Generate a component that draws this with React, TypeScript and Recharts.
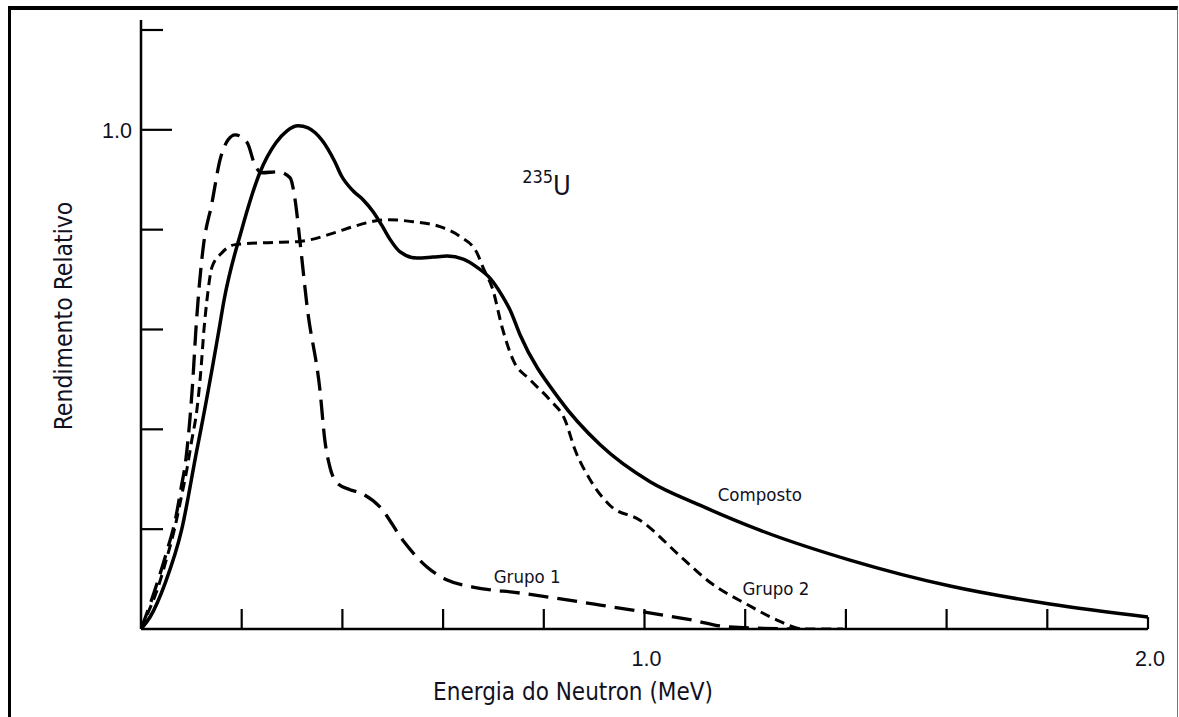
import React from 'react';
import { ComposedChart, Line, XAxis, YAxis, ReferenceDot } from 'recharts';

// Energy (MeV) and relative yield for each curve
const compostoE = [0, 0.018, 0.048, 0.081, 0.111, 0.119, 0.155, 0.165, 0.2, 0.236, 0.268, 0.29, 0.312, 0.332, 0.346, 0.371, 0.385, 0.398, 0.421, 0.441, 0.461, 0.481, 0.495, 0.514, 0.548, 0.58, 0.608, 0.64, 0.667, 0.693, 0.719, 0.733, 0.753, 0.832, 0.912, 1.011, 1.11, 1.229, 1.408, 1.607, 1.805, 2.0];
const compostoV = [0, 0.024, 0.092, 0.2, 0.359, 0.4, 0.6, 0.659, 0.8, 0.914, 0.974, 0.998, 1.008, 1.004, 0.994, 0.962, 0.936, 0.908, 0.878, 0.86, 0.836, 0.804, 0.78, 0.756, 0.743, 0.745, 0.747, 0.741, 0.725, 0.703, 0.665, 0.639, 0.589, 0.459, 0.369, 0.295, 0.248, 0.198, 0.138, 0.086, 0.05, 0.024];

const grupo1E = [0, 0.014, 0.034, 0.052, 0.068, 0.079, 0.089, 0.097, 0.103, 0.109, 0.115, 0.123, 0.141, 0.157, 0.173, 0.187, 0.211, 0.226, 0.24, 0.272, 0.296, 0.306, 0.316, 0.33, 0.356, 0.365, 0.375, 0.389, 0.415, 0.435, 0.475, 0.52, 0.568, 0.608, 0.659, 0.753, 0.912, 1.094, 1.168, 1.309];
const grupo1V = [0, 0.038, 0.098, 0.158, 0.218, 0.279, 0.339, 0.419, 0.499, 0.599, 0.679, 0.76, 0.854, 0.94, 0.98, 0.99, 0.974, 0.93, 0.914, 0.916, 0.904, 0.86, 0.774, 0.645, 0.473, 0.379, 0.325, 0.293, 0.279, 0.273, 0.244, 0.178, 0.124, 0.098, 0.084, 0.072, 0.048, 0.018, 0.004, 0];

const grupo2E = [0, 0.012, 0.032, 0.05, 0.066, 0.079, 0.091, 0.101, 0.111, 0.119, 0.125, 0.131, 0.141, 0.161, 0.187, 0.252, 0.312, 0.385, 0.421, 0.489, 0.54, 0.594, 0.634, 0.667, 0.679, 0.699, 0.717, 0.739, 0.773, 0.812, 0.842, 0.862, 0.892, 0.931, 0.991, 1.073, 1.132, 1.206, 1.263, 1.315, 1.394];
const grupo2V = [0, 0.028, 0.078, 0.138, 0.198, 0.259, 0.319, 0.379, 0.439, 0.519, 0.599, 0.659, 0.725, 0.754, 0.77, 0.774, 0.776, 0.794, 0.806, 0.82, 0.816, 0.806, 0.786, 0.754, 0.725, 0.679, 0.605, 0.539, 0.499, 0.459, 0.419, 0.359, 0.299, 0.248, 0.218, 0.144, 0.092, 0.048, 0.018, 0, 0];

const xTicks = [0, 0.2, 0.4, 0.6, 0.8, 1.0, 1.2, 1.4, 1.6, 1.8, 2.0];
const xTickLabels: Record<string, string> = { '1': '1.0', '2': '2.0' };
const yTicks = [0.2, 0.4, 0.6, 0.8, 1.0, 1.2];
const yTickLabels: Record<string, string> = { '1': '1.0' };

const annotationTexts = ['Composto', 'Grupo 1', 'Grupo 2'];
const annotationE = [1.229, 0.767, 1.261];
const annotationV = [0.2685, 0.106, 0.082];
const isotopeMass = '235';
const isotopeSymbol = 'U';
const isotopeE = 0.757;
const isotopeV = 0.87;

const xTitle = 'Energia do Neutron (MeV)';
const yTitle = 'Rendimento Relativo';

const toData = (es: number[], vs: number[]) => es.map((e, i) => ({ e, v: vs[i] }));
const compostoData = toData(compostoE, compostoV);
const grupo1Data = toData(grupo1E, grupo1V);
const grupo2Data = toData(grupo2E, grupo2V);

const titleFont = '"DejaVu Sans Condensed", "DejaVu Sans", sans-serif';
const tickFont = '"Liberation Sans", Arial, sans-serif';
const textColor = '#111122';

const XTick = (props: any) => {
  const { x, y, payload } = props;
  const val = Math.round(payload.value * 10) / 10;
  const label = xTickLabels[String(val)];
  const len = val === 2 ? 12 : 20;
  return (
    <g>
      {val > 0 && <line x1={x} x2={x} y1={y} y2={y - len} stroke="#000" strokeWidth={2.2} />}
      {label && (
        <text x={x + 2} y={y + 37} textAnchor="middle" fontFamily={tickFont} fontSize={21.5} fill={textColor}>
          {label}
        </text>
      )}
    </g>
  );
};

const YTick = (props: any) => {
  const { x, y, payload } = props;
  const val = Math.round(payload.value * 10) / 10;
  const label = yTickLabels[String(val)];
  const len = val === 1 ? 31 : 22;
  return (
    <g>
      <line x1={x} x2={x + len} y1={y} y2={y} stroke="#000" strokeWidth={2.2} />
      {label && (
        <text x={x - 9} y={y + 8} textAnchor="end" fontFamily={tickFont} fontSize={21.5} fill={textColor}>
          {label}
        </text>
      )}
    </g>
  );
};

export default function App() {
  return (
    <div style={{ position: 'absolute', left: 0, top: 0, width: 1179, height: 717, background: '#fff', overflow: 'hidden' }}>
      <div
        style={{
          position: 'absolute',
          left: 8,
          top: 6,
          width: 1166,
          height: 730,
          borderLeft: '3px solid #000',
          borderTop: '4px solid #000',
          borderRight: '1px solid #777',
        }}
      />
      <div style={{ position: 'absolute', left: 0, top: 0 }}>
        <ComposedChart width={1179} height={717} margin={{ top: 20, right: 31, left: 140, bottom: 87 }}>
          <XAxis
            dataKey="e"
            type="number"
            domain={[0, 2]}
            ticks={xTicks}
            interval={0}
            height={1}
            tickSize={0}
            tickMargin={0}
            tick={<XTick />}
            tickLine={false}
            axisLine={{ stroke: '#000', strokeWidth: 2.5 }}
            allowDataOverflow
            label={{
              content: () => (
                <text
                  x={573}
                  y={700}
                  textAnchor="middle"
                  fontFamily={titleFont}
                  fontSize={24}
                  fill={textColor}
                >
                  {xTitle}
                </text>
              ),
            }}
          />
          <YAxis
            dataKey="v"
            type="number"
            domain={[0, 1.22]}
            ticks={yTicks}
            interval={0}
            width={1}
            tickSize={0}
            tickMargin={0}
            tick={<YTick />}
            tickLine={false}
            axisLine={{ stroke: '#000', strokeWidth: 2.5 }}
            allowDataOverflow
            label={{
              content: () => {
                const cx = 63;
                const cy = 316;
                return (
                  <text
                    x={cx}
                    y={cy}
                    textAnchor="middle"
                    dominantBaseline="central"
                    transform={`rotate(-90 ${cx} ${cy})`}
                    fontFamily={titleFont}
                    fontSize={24.5}
                    fill={textColor}
                  >
                    {yTitle}
                  </text>
                );
              },
            }}
          />
          <Line
            data={compostoData}
            dataKey="v"
            type="monotone"
            stroke="#000"
            strokeWidth={3.5}
            dot={false}
            activeDot={false}
            isAnimationActive={false}
          />
          <Line
            data={grupo1Data}
            dataKey="v"
            type="monotone"
            stroke="#000"
            strokeWidth={3.3}
            strokeDasharray="20 9"
            dot={false}
            activeDot={false}
            isAnimationActive={false}
          />
          <Line
            data={grupo2Data}
            dataKey="v"
            type="monotone"
            stroke="#000"
            strokeWidth={3}
            strokeDasharray="10 6"
            dot={false}
            activeDot={false}
            isAnimationActive={false}
          />
          {annotationTexts.map((t, i) => (
            <ReferenceDot
              key={t}
              x={annotationE[i]}
              y={annotationV[i]}
              r={0}
              fill="none"
              stroke="none"
              label={(p: any) => (
                <text
                  x={p.viewBox.x}
                  y={p.viewBox.y}
                  textAnchor="middle"
                  dominantBaseline="central"
                  fontFamily={titleFont}
                  fontSize={18.5}
                  fill={textColor}
                >
                  {t}
                </text>
              )}
            />
          ))}
          <ReferenceDot
            x={isotopeE}
            y={isotopeV}
            r={0}
            fill="none"
            stroke="none"
            label={(p: any) => (
              <text x={p.viewBox.x} y={p.viewBox.y} fontFamily={titleFont} fill={textColor}>
                <tspan fontSize={18} dy={-12}>{isotopeMass}</tspan>
                <tspan fontSize={27} dy={12}>{isotopeSymbol}</tspan>
              </text>
            )}
          />
        </ComposedChart>
      </div>
    </div>
  );
}
